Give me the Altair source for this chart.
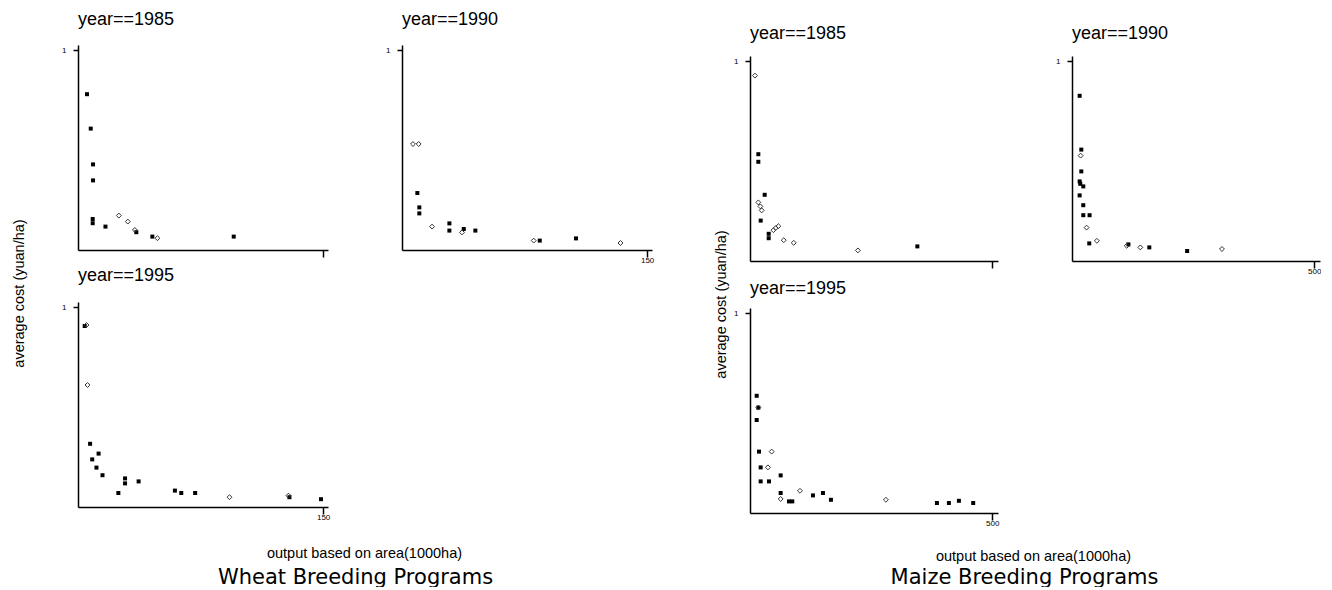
import altair as alt
import pandas as pd

# ---------------- Wheat ----------------
w85_filled_x = [5.5, 7.8, 9.2, 9.2, 9.0, 9.0, 16.8, 35.7, 45.5, 95.3]
w85_filled_y = [0.779, 0.607, 0.428, 0.348, 0.155, 0.134, 0.117, 0.089, 0.067, 0.067]
w85_hollow_x = [25.0, 30.5, 34.8, 48.6]
w85_hollow_y = [0.172, 0.142, 0.100, 0.059]

w90_filled_x = [9.4, 10.6, 10.6, 29.0, 29.0, 37.8, 44.9, 84.3, 106.5]
w90_filled_y = [0.285, 0.213, 0.183, 0.133, 0.097, 0.105, 0.097, 0.047, 0.058]
w90_hollow_x = [6.7, 10.2, 18.4, 36.7, 80.6, 133.7]
w90_hollow_y = [0.530, 0.530, 0.117, 0.088, 0.047, 0.035]

w95_filled_x = [4.1, 7.4, 8.7, 12.6, 11.3, 15.0, 24.7, 28.8, 28.8, 37.1, 59.3, 63.2, 71.7, 129.4, 148.7]
w95_filled_y = [0.905, 0.316, 0.238, 0.267, 0.197, 0.159, 0.070, 0.143, 0.118, 0.128, 0.082, 0.070, 0.070, 0.049, 0.039]
w95_hollow_x = [5.2, 5.8, 92.7, 128.8]
w95_hollow_y = [0.910, 0.610, 0.049, 0.057]

# ---------------- Maize ----------------
m85_filled_x = [17.2, 17.2, 30.3, 22.1, 38.6, 38.6, 345.5]
m85_filled_y = [0.534, 0.496, 0.331, 0.202, 0.136, 0.114, 0.073]
m85_hollow_x = [10.3, 17.2, 21.4, 24.1, 48.3, 53.1, 58.6, 69.7, 90.3, 222.8]
m85_hollow_y = [0.927, 0.293, 0.273, 0.253, 0.154, 0.165, 0.174, 0.104, 0.091, 0.053]

m90_filled_x = [15.8, 19.2, 19.2, 15.8, 17.1, 23.3, 15.8, 23.3, 23.3, 36.3, 35.6, 116.5, 159.6, 237.7]
m90_filled_y = [0.826, 0.557, 0.448, 0.398, 0.386, 0.373, 0.328, 0.279, 0.229, 0.229, 0.088, 0.083, 0.068, 0.050]
m90_hollow_x = [17.8, 30.1, 51.4, 113.0, 141.1, 309.6]
m90_hollow_y = [0.527, 0.167, 0.101, 0.076, 0.068, 0.060]

m95_filled_x = [13.8, 17.2, 13.8, 18.6, 22.0, 22.0, 39.2, 63.3, 63.3, 80.5, 87.3, 130.0, 150.6, 167.1, 385.9, 410.6, 431.3, 460.8]
m95_filled_y = [0.586, 0.527, 0.465, 0.307, 0.228, 0.158, 0.158, 0.188, 0.100, 0.058, 0.058, 0.088, 0.100, 0.066, 0.050, 0.050, 0.061, 0.050]
m95_hollow_x = [17.2, 44.7, 37.1, 63.3, 103.2, 280.6]
m95_hollow_y = [0.527, 0.307, 0.228, 0.070, 0.111, 0.066]

# axis / label texts
y_ticks = [1]
wheat_x_tick = [150]
maize_x_tick = [500]
y_title = "average cost (yuan/ha)"
x_title = "output based on area(1000ha)"
wheat_label = "Wheat Breeding Programs"
maize_label = "Maize Breeding Programs"

FONT = "Liberation Sans"
BIG_FONT = "DejaVu Sans"
YMAX = 1.025
H = 205


def panel(fx, fy, hx, hy, year, xmax, xticks, show_xlabels, W, top_shift=0,
          title_offset=16, xtitle_pos=None, ytitle_pos=None, big=None):
    df = pd.DataFrame({
        "x": fx + hx,
        "y": fy + hy,
        "g": ["filled"] * len(fx) + ["hollow"] * len(hx),
    })
    xaxis_kw = dict(orient="bottom", values=xticks, labels=show_xlabels, grid=False,
                    domainColor="black", domainWidth=1.5, tickColor="black",
                    tickWidth=1.5, tickSize=7, labelFontSize=8, labelFont=FONT,
                    labelColor="black", labelPadding=-1, labelFlush=False)
    if xtitle_pos is not None:
        xaxis_kw.update(title=x_title, titleX=xtitle_pos[0], titleY=xtitle_pos[1],
                        titleAlign="center", titleBaseline="alphabetic",
                        titleFont=FONT, titleFontSize=14.5, titleFontWeight="normal",
                        titleColor="black")
    else:
        xaxis_kw.update(title=None)
    yaxis_kw = dict(values=y_ticks, format="d", grid=False,
                    domainColor="black", domainWidth=1.5, tickColor="black",
                    tickWidth=1.5, tickSize=5, labelFontSize=8, labelFont=FONT,
                    labelColor="black", labelPadding=7, labelFlush=False)
    if ytitle_pos is not None:
        yaxis_kw.update(title=y_title, titleX=ytitle_pos[0], titleY=ytitle_pos[1],
                        titleAngle=270, titleAlign="center", titleBaseline="middle",
                        titleFont=FONT, titleFontSize=14.5, titleFontWeight="normal",
                        titleColor="black")
    else:
        yaxis_kw.update(title=None)

    view_h = H + top_shift
    xscale = alt.Scale(domain=[0, xmax], nice=False, zero=True)
    yscale = alt.Scale(domain=[0, YMAX], nice=False, range=[view_h, top_shift])
    base = alt.Chart(df).encode(
        x=alt.X("x:Q", scale=xscale, axis=alt.Axis(**xaxis_kw)),
        y=alt.Y("y:Q", scale=yscale, axis=alt.Axis(**yaxis_kw)),
    )
    filled = base.transform_filter(alt.datum.g == "filled").mark_point(
        shape="square", filled=True, size=16, color="black", opacity=1)
    hollow = base.transform_filter(alt.datum.g == "hollow").mark_point(
        shape="diamond", filled=False, size=24, color="#333333",
        strokeWidth=1, opacity=1)
    main = alt.layer(filled, hollow)
    if big is not None:
        text, bx, by = big
        carrier = alt.Chart(df).mark_point(opacity=0).encode(
            x=alt.X("x:Q", scale=xscale,
                    axis=alt.Axis(orient="bottom", title=text, domain=False,
                                  ticks=False, labels=False, grid=False,
                                  titleX=bx, titleY=by, titleAlign="center",
                                  titleBaseline="alphabetic", titleFont=BIG_FONT,
                                  titleFontSize=21, titleFontWeight="normal",
                                  titleColor="black")),
            y=alt.Y("y:Q", scale=yscale, axis=alt.Axis(**yaxis_kw)),
        )
        main = alt.layer(main, carrier).resolve_axis(x="independent")
    return main.properties(
        width=W, height=view_h,
        title=alt.TitleParams(f"year=={year}", anchor="start", frame="group",
                              font=FONT, fontSize=18, fontWeight="normal",
                              color="black", offset=title_offset),
    )


WW = 250
WM = 248
w85 = panel(w85_filled_x, w85_filled_y, w85_hollow_x, w85_hollow_y, 1985, 153, wheat_x_tick, False, WW)
w90 = panel(w90_filled_x, w90_filled_y, w90_hollow_x, w90_hollow_y, 1990, 153, wheat_x_tick, True, WW)
w95 = panel(w95_filled_x, w95_filled_y, w95_hollow_x, w95_hollow_y, 1995, 153, wheat_x_tick, True, WW,
            title_offset=-66, xtitle_pos=(286, 50), ytitle_pos=(-59, -9),
            big=(wheat_label, 277, 76))

m85 = panel(m85_filled_x, m85_filled_y, m85_hollow_x, m85_hollow_y, 1985, 512, maize_x_tick, False, WM,
            top_shift=11, title_offset=2)
m90 = panel(m90_filled_x, m90_filled_y, m90_hollow_x, m90_hollow_y, 1990, 512, maize_x_tick, True, WM,
            top_shift=11, title_offset=2)
m95 = panel(m95_filled_x, m95_filled_y, m95_hollow_x, m95_hollow_y, 1995, 512, maize_x_tick, True, WM,
            top_shift=6, title_offset=-68, xtitle_pos=(283, 47), ytitle_pos=(-29, 2),
            big=(maize_label, 274, 70))


def spacer(w):
    return alt.Chart(pd.DataFrame({"a": [0]})).mark_text(text="").encode(
        x=alt.value(0), y=alt.value(0)).properties(width=w, height=1)


chart = alt.concat(
    w85, spacer(74), w90, spacer(98), m85, spacer(74), m90,
    w95, spacer(74), spacer(1), spacer(98), m95,
    columns=7, spacing={"row": 41, "column": 0}, bounds="flush", align="each",
).properties(
    padding={"left": 2, "top": 3, "right": 0, "bottom": 0},
    background="white",
).configure_view(stroke=None)

chart.save("out.html", embed_options={"renderer": "svg", "actions": False})
